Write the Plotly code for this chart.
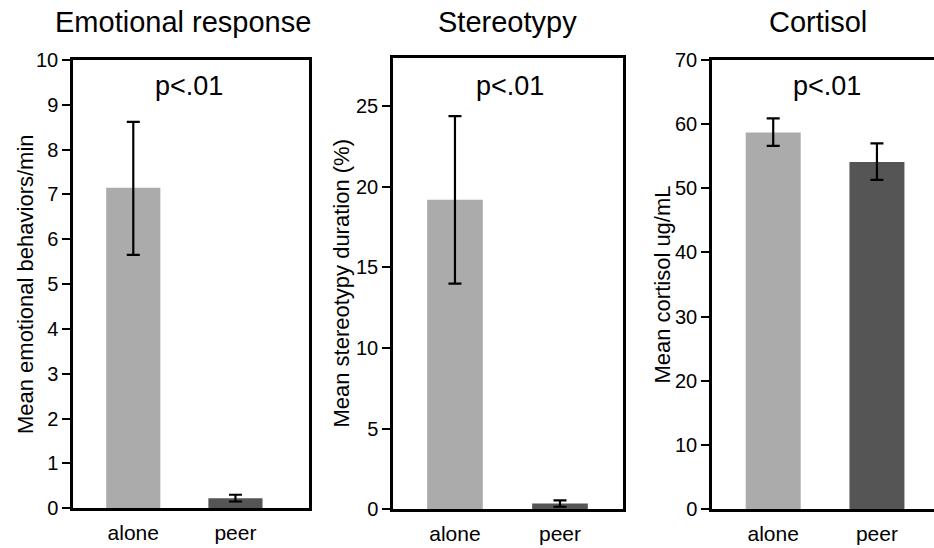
import plotly.graph_objects as go

categories = ["alone", "peer"]
bar_colors = ["#ababab", "#555555"]

emo_mean = [7.15, 0.22]
emo_hi = [8.62, 0.30]
emo_lo = [5.65, 0.15]

ster_mean = [19.2, 0.35]
ster_hi = [24.4, 0.55]
ster_lo = [14.0, 0.15]

cort_mean = [58.7, 54.1]
cort_hi = [60.9, 57.0]
cort_lo = [56.6, 51.3]

panel_titles = ["Emotional response", "Stereotypy", "Cortisol"]
y_titles = ["Mean emotional behaviors/min", "Mean stereotypy duration (%)", "Mean cortisol ug/mL"]
p_text = "p<.01"

W, H = 934, 548
FONT = "Liberation Sans, Arial, sans-serif"

fig = go.Figure()
series = [(emo_mean, emo_hi, emo_lo), (ster_mean, ster_hi, ster_lo), (cort_mean, cort_hi, cort_lo)]
for i, (m, hi, lo) in enumerate(series):
    sfx = "" if i == 0 else str(i + 1)
    fig.add_trace(go.Bar(
        x=categories, y=m, xaxis="x" + sfx, yaxis="y" + sfx,
        marker=dict(color=bar_colors, line=dict(width=0)),
        width=0.53,
        error_y=dict(type="data", symmetric=False,
                     array=[h - v for h, v in zip(hi, m)],
                     arrayminus=[v - l for l, v in zip(lo, m)],
                     color="black", thickness=2.2, width=6.5),
        showlegend=False,
    ))

# pixel geometry of panels: (left, right, top, bottom)
boxes = [(73, 309, 51, 518), (393, 623, 49, 519), (712, 934, 51, 519)]
xranges = [[-0.59, 1.72], [-0.59, 1.6], [-0.59, 1.55]]
yranges = [[0, 10], [0, 28], [0, 70]]
ytick_vals = [list(range(0, 11, 1)), list(range(0, 26, 5)), list(range(0, 71, 10))]
ytitle_x = [25, 342, 663]
title_x = [183, 507, 818]
p_x = [189, 510, 827]

layout = dict(width=W, height=H, margin=dict(l=0, r=0, t=0, b=0),
              plot_bgcolor="white", paper_bgcolor="white",
              font=dict(family=FONT, color="black"), bargap=0.4)
annotations = []
for i, (l, r, t, b) in enumerate(boxes):
    sfx = "" if i == 0 else str(i + 1)
    layout["xaxis" + sfx] = dict(
        domain=[l / W, r / W], range=xranges[i], anchor="y" + sfx,
        showline=True, linecolor="black", linewidth=2.5, mirror=True,
        ticks="", ticklabelstandoff=4,
        tickfont=dict(size=21, family=FONT, color="black"),
        showgrid=False, zeroline=False, fixedrange=True)
    layout["yaxis" + sfx] = dict(
        domain=[1 - b / H, 1 - t / H], range=yranges[i], anchor="x" + sfx,
        showline=True, linecolor="black", linewidth=2.5, mirror=(i != 2),
        ticks="outside", ticklen=8, tickwidth=2.2, tickcolor="black",
        tickvals=ytick_vals[i],
        tickfont=dict(size=20, family=FONT, color="black"),
        showgrid=False, zeroline=False, fixedrange=True)
    annotations.append(dict(text=panel_titles[i], x=title_x[i] / W, y=1 - 11 / H,
                            xref="paper", yref="paper", showarrow=False,
                            xanchor="center", yanchor="middle",
                            font=dict(size=29, family=FONT, color="black")))
    annotations.append(dict(text=y_titles[i], x=ytitle_x[i] / W, y=1 - ((t + b) / 2) / H,
                            xref="paper", yref="paper", showarrow=False, textangle=-90,
                            xanchor="center", yanchor="middle",
                            font=dict(size=22, family=FONT, color="black")))
    annotations.append(dict(text=p_text, x=p_x[i] / W, y=1 - 78 / H,
                            xref="paper", yref="paper", showarrow=False,
                            xanchor="center", yanchor="middle",
                            font=dict(size=27, family=FONT, color="black")))
layout["annotations"] = annotations
fig.update_layout(**layout)
fig.write_html("out.html")
